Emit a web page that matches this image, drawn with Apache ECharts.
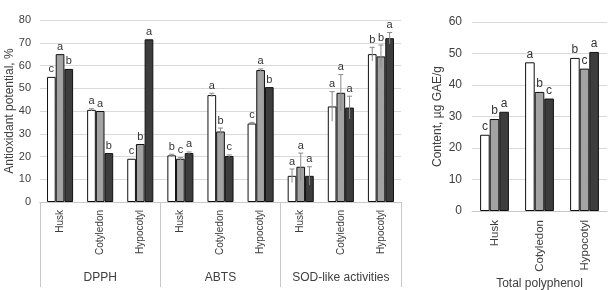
<!DOCTYPE html>
<html>
<head>
<meta charset="utf-8">
<script src="https://cdn.jsdelivr.net/npm/echarts@6/dist/echarts.min.js"></script>
<style>
  html, body { margin: 0; padding: 0; background: #fff; }
  #chart { width: 610px; height: 290px; }
</style>
</head>
<body>
<div id="chart"></div>
<script>
// antioxidant panel (left)
const parts = ["Husk", "Cotyledon", "Hypocotyl", "Husk", "Cotyledon", "Hypocotyl", "Husk", "Cotyledon", "Hypocotyl"];
const assays = ["DPPH", "ABTS", "SOD-like activities"];
const whiteVals = [55, 40.5, 19, 20.5, 47, 34.5, 11.5, 42, 65];
const grayVals = [65, 40, 25.5, 19, 31, 58, 15.5, 48, 64];
const darkVals = [58.5, 21.5, 71.5, 21.5, 20.2, 50.5, 11.5, 41.5, 72];
const whiteErr = [0, 0.5, 0, 0.5, 0.8, 0.5, 3, 6.5, 3];
const grayErr = [0, 0, 0, 0.5, 1.5, 0.5, 6, 8, 5];
const darkErr = [0, 0, 0, 0.5, 0.5, 0, 4, 5, 2.5];
const whiteLet = ["c", "a", "c", "b", "a", "c", "a", "a", "b"];
const grayLet = ["a", "a", "b", "c", "b", "a", "a", "a", "b"];
const darkLet = ["b", "b", "a", "a", "c", "b", "a", "a", "a"];

// total polyphenol panel (right)
const polyParts = ["Husk", "Cotyledon", "Hypocotyl"];
const polyWhite = [24.2, 47.2, 48.6];
const polyGray = [29.2, 37.8, 45.2];
const polyDark = [31.5, 35.7, 50.5];
const polyWhiteLet = ["c", "a", "b"];
const polyGrayLet = ["b", "b", "c"];
const polyDarkLet = ["a", "c", "a"];

const FONT = "Liberation Sans, Arial, sans-serif";
const fills = ["#ffffff", "#a3a3a3", "#3d3d3d"];
const leftGap = 0.35;
const rightGap = 0.36;

const chart = echarts.init(document.getElementById("chart"));

function barSeries(vals, k, xi, yi, gap) {
  return {
    type: "bar",
    xAxisIndex: xi,
    yAxisIndex: yi,
    data: vals,
    barGap: 0,
    barCategoryGap: gap * 100 + "%",
    itemStyle: { color: fills[k], borderColor: "#111", borderWidth: 1 },
    z: 2,
  };
}

function marks(vals, errs, letters, k, xi, yi, gap, size) {
  return {
    type: "custom",
    xAxisIndex: xi,
    yAxisIndex: yi,
    z: 5,
    silent: true,
    data: vals.map((v, i) => [i, v, errs ? errs[i] : 0]),
    renderItem: function (params, api) {
      const i = params.dataIndex;
      const v = api.value(1);
      const e = api.value(2);
      const base = api.coord([api.value(0), v]);
      const bw = (api.size([1, 0])[0] * (1 - gap)) / 3;
      const x = base[0] + (k - 1) * bw;
      const top = api.coord([api.value(0), v + e])[1];
      const children = [];
      if (e > 0) {
        const bottom = api.coord([api.value(0), v - e])[1];
        const ls = { stroke: "#8a8a8a", lineWidth: 1 };
        children.push({ type: "line", shape: { x1: x, y1: bottom, x2: x, y2: top }, style: ls });
        children.push({ type: "line", shape: { x1: x - 2.5, y1: top, x2: x + 2.5, y2: top }, style: ls });
      }
      children.push({
        type: "text",
        style: {
          text: letters[i],
          x: x,
          y: top - 2,
          align: "center",
          verticalAlign: "bottom",
          fontSize: size,
          fontFamily: FONT,
          fill: "#333",
        },
      });
      return { type: "group", children: children };
    },
  };
}

const axisText = { fontFamily: FONT, fontSize: 11, color: "#404040" };
const gridLine = { show: true, lineStyle: { color: "#d9d9d9", width: 1 } };

const option = {
  animation: false,
  grid: [
    { left: 40, right: 209, top: 20, bottom: 88, outerBoundsMode: "none" },
    { left: 472, right: 3, top: 22, bottom: 79, outerBoundsMode: "none" },
  ],
  xAxis: [
    {
      type: "category",
      gridIndex: 0,
      data: parts,
      axisLine: { lineStyle: { color: "#c8c8c8" } },
      axisTick: { show: false },
      axisLabel: { ...axisText, fontSize: 10, rotate: 90, margin: 8, interval: 0 },
    },
    {
      type: "category",
      gridIndex: 0,
      data: assays,
      position: "bottom",
      axisLine: { lineStyle: { color: "#c8c8c8" } },
      axisTick: { show: true, length: 85, interval: 0, lineStyle: { color: "#c8c8c8" } },
      axisLabel: { ...axisText, fontSize: 12, margin: 70, interval: 0 },
    },
    {
      type: "category",
      gridIndex: 1,
      data: polyParts,
      axisLine: { lineStyle: { color: "#c8c8c8" } },
      axisTick: { show: false },
      axisLabel: { ...axisText, fontSize: 11.5, rotate: 90, margin: 9, interval: 0 },
      name: "Total polyphenol",
      nameLocation: "middle",
      nameGap: 67,
      nameMoveOverlap: false,
      nameTextStyle: { ...axisText, fontSize: 12 },
    },
  ],
  yAxis: [
    {
      type: "value",
      gridIndex: 0,
      min: 0,
      max: 80,
      interval: 10,
      axisLine: { show: false },
      axisTick: { show: false },
      splitLine: gridLine,
      axisLabel: { ...axisText, margin: 9 },
      name: "Antioxidant potential, %",
      nameLocation: "middle",
      nameGap: 24,
      nameMoveOverlap: false,
      nameTextStyle: { ...axisText, fontSize: 12 },
    },
    {
      type: "value",
      gridIndex: 1,
      min: 0,
      max: 60,
      interval: 10,
      axisLine: { show: false },
      axisTick: { show: false },
      splitLine: gridLine,
      axisLabel: { ...axisText, fontSize: 12, margin: 10 },
      name: "Content, µg GAE/g",
      nameLocation: "middle",
      nameGap: 28,
      nameMoveOverlap: false,
      nameTextStyle: { ...axisText, fontSize: 12 },
    },
  ],
  series: [
    barSeries(whiteVals, 0, 0, 0, leftGap),
    barSeries(grayVals, 1, 0, 0, leftGap),
    barSeries(darkVals, 2, 0, 0, leftGap),
    marks(whiteVals, whiteErr, whiteLet, 0, 0, 0, leftGap, 11),
    marks(grayVals, grayErr, grayLet, 1, 0, 0, leftGap, 11),
    marks(darkVals, darkErr, darkLet, 2, 0, 0, leftGap, 11),
    barSeries(polyWhite, 0, 2, 1, rightGap),
    barSeries(polyGray, 1, 2, 1, rightGap),
    barSeries(polyDark, 2, 2, 1, rightGap),
    marks(polyWhite, null, polyWhiteLet, 0, 2, 1, rightGap, 12),
    marks(polyGray, null, polyGrayLet, 1, 2, 1, rightGap, 12),
    marks(polyDark, null, polyDarkLet, 2, 2, 1, rightGap, 12),
  ],
};

chart.setOption(option);
</script>
</body>
</html>
